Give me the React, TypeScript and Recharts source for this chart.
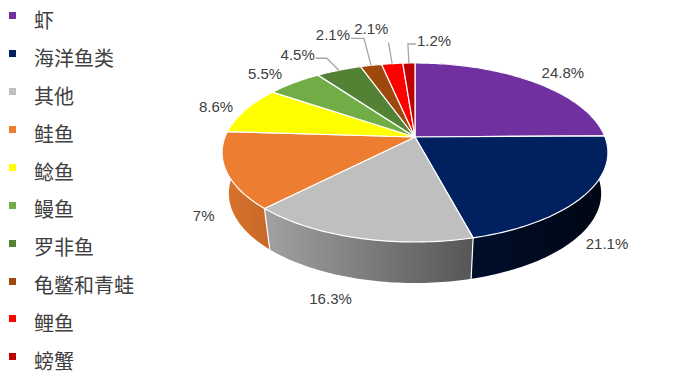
import { PieChart, Pie } from "recharts";

// ---------------------------------------------------------------------------
// Data
// ---------------------------------------------------------------------------

const categories = ["虾", "海洋鱼类", "其他", "鲑鱼", "鲶鱼", "鳗鱼", "罗非鱼", "龟鳖和青蛙", "鲤鱼", "螃蟹"];
const shares = [24.8, 21.1, 16.3, 13.8, 8.6, 5.5, 4.5, 2.1, 2.1, 1.2];
// data labels exactly as printed on the chart
const labelTexts = ["24.8%", "21.1%", "16.3%", "7%", "8.6%", "5.5%", "4.5%", "2.1%", "2.1%", "1.2%"];
const colors = ["#7030A0", "#002060", "#BFBFBF", "#ED7D31", "#FFFF00", "#70AD47", "#548235", "#9E480E", "#FF0000", "#C00000"];

const data = categories.map((name, idx) => ({ name, value: shares[idx], idx }));

// ---------------------------------------------------------------------------
// Fake 3D projection
// ---------------------------------------------------------------------------

const W = 677;
const H = 383;
const CX = 415;
const CY = 137;
const R = 190;
const TILT = 0.457;
const PERSP = 0.173;
const DEPTH = 41;
const BASE_SHRINK = 0.965;

const LABEL_FONT = '"Liberation Sans", Arial, sans-serif';
const LEGEND_FONT = '"Noto Sans CJK SC", "Noto Sans", sans-serif';

// manual callouts for the thin slices at the top
const callouts: Record<string, { lift: number; run: number }> = {
  罗非鱼: { lift: 12, run: -11 },
  龟鳖和青蛙: { lift: 27, run: -13 },
  鲤鱼: { lift: 21, run: 0 },
  螃蟹: { lift: 19, run: 8 },
};

const toTheta = (deg: number) => ((90 - deg) * Math.PI) / 180;

function project(theta: number, cx: number, cy: number, r: number, level: number) {
  const s = Math.sin(theta);
  const c = Math.cos(theta);
  const d = 1 + PERSP * c;
  const k = level ? BASE_SHRINK : 1;
  return [cx + (k * r * s) / d, cy + level * DEPTH - (TILT * r * c) / d];
}

function arcPoints(t1: number, t2: number, cx: number, cy: number, r: number, level: number) {
  const n = Math.max(2, Math.ceil(Math.abs(t2 - t1) / 0.02));
  const pts: number[][] = [];
  for (let i = 0; i <= n; i++) {
    pts.push(project(t1 + ((t2 - t1) * i) / n, cx, cy, r, level));
  }
  return pts;
}

function shade(hex: string, f: number) {
  const v = parseInt(hex.slice(1), 16);
  const r = Math.round(((v >> 16) & 255) * f);
  const g = Math.round(((v >> 8) & 255) * f);
  const b = Math.round((v & 255) * f);
  return `rgb(${r},${g},${b})`;
}

const idxOf = (props: any) => props.payload?.idx ?? props.idx ?? props.index ?? 0;

function WallShape(props: any) {
  const { cx, cy, outerRadius, startAngle, endAngle } = props;
  const idx = idxOf(props);
  const t1 = toTheta(startAngle);
  const t2 = toTheta(endAngle);
  const top = arcPoints(t1, t2, cx, cy, outerRadius, 0);
  const bottom = arcPoints(t2, t1, cx, cy, outerRadius, 1);
  const d =
    "M" + top.concat(bottom).map((p) => `${p[0].toFixed(2)},${p[1].toFixed(2)}`).join("L") + "Z";
  const id = `wall-${idx}`;
  const deg = ((t1 * 180) / Math.PI) % 360;
  const a = project(t1, cx, cy, outerRadius, 0);
  const b = project(t1, cx, cy, outerRadius, 1);
  return (
    <g>
      <defs>
        <linearGradient id={id} gradientUnits="userSpaceOnUse" x1={cx - outerRadius} x2={cx + outerRadius} y1={0} y2={0}>
          {[0, 0.5, 1].map((t) => (
            <stop key={t} offset={t} stopColor={shade(colors[idx], 0.92 - 0.72 * t)} />
          ))}
        </linearGradient>
      </defs>
      <path d={d} fill={`url(#${id})`} stroke="none" />
      {deg > 100 && deg < 260 && (
        <line x1={a[0]} y1={a[1]} x2={b[0]} y2={b[1]} stroke="#fff" strokeWidth={1.2} />
      )}
    </g>
  );
}

function TopShape(props: any) {
  const { cx, cy, outerRadius, startAngle, endAngle } = props;
  const idx = idxOf(props);
  const pts = arcPoints(toTheta(startAngle), toTheta(endAngle), cx, cy, outerRadius, 0);
  const d = `M${cx},${cy}L` + pts.map((p) => `${p[0].toFixed(2)},${p[1].toFixed(2)}`).join("L") + "Z";
  return <path d={d} fill={colors[idx]} stroke="#fff" strokeWidth={1.2} strokeLinejoin="round" />;
}

function renderLabel(props: any) {
  const { cx, cy, outerRadius, midAngle } = props;
  const idx = idxOf(props);
  const text = labelTexts[idx];
  const theta = toTheta(midAngle);
  const edge = project(theta, cx, cy, outerRadius, 0);
  const textStyle = { fontFamily: LABEL_FONT, fontSize: 15, fill: "#404040" };
  const co = callouts[categories[idx]];

  if (co) {
    const ex = edge[0] + 26 * Math.sin(theta);
    const ey = edge[1] - co.lift;
    const tx = ex + co.run;
    let labelX = tx - 1;
    let labelY = ey - 4;
    let anchor: "start" | "end" = "end";
    if (co.run > 0) {
      labelX = tx + 1;
      anchor = "start";
    } else if (co.run === 0) {
      labelX = ex;
      labelY = ey - 14;
    }
    return (
      <g key={`lbl-${idx}`}>
        <polyline
          points={`${edge[0]},${edge[1]} ${ex},${ey} ${tx},${ey}`}
          fill="none"
          stroke="#A6A6A6"
          strokeWidth={1.3}
        />
        <text x={labelX} y={labelY} textAnchor={anchor} dominantBaseline="central" style={textStyle}>
          {text}
        </text>
      </g>
    );
  }

  // outside-end labels; front slices sit below the side wall
  const front = Math.cos(theta) < 0;
  const base = front ? project(theta, cx, cy, outerRadius, 1) : edge;
  const vx = edge[0] - cx;
  const vy = edge[1] - cy;
  const len = Math.hypot(vx, vy) || 1;
  const x = base[0] + Math.sign(vx) * 29;
  const y = base[1] + (vy / len) * 22;
  return (
    <text key={`lbl-${idx}`} x={x} y={y} textAnchor="middle" dominantBaseline="central" style={textStyle}>
      {text}
    </text>
  );
}

// ---------------------------------------------------------------------------
// Component
// ---------------------------------------------------------------------------

export default function App() {
  return (
    <div style={{ position: "absolute", left: 0, top: 0, width: W, height: H, background: "#fff" }}>
      <PieChart width={W} height={H} margin={{ top: 0, right: 0, bottom: 0, left: 0 }}>
        <Pie
          data={data}
          dataKey="value"
          nameKey="name"
          cx={CX}
          cy={CY}
          outerRadius={R}
          startAngle={90}
          endAngle={-270}
          stroke="none"
          legendType="none"
          label={false}
          labelLine={false}
          shape={WallShape}
          inactiveShape={WallShape}
          activeShape={WallShape}
          isAnimationActive={false}
        />
        <Pie
          data={data}
          dataKey="value"
          nameKey="name"
          cx={CX}
          cy={CY}
          outerRadius={R}
          startAngle={90}
          endAngle={-270}
          stroke="#fff"
          label={renderLabel}
          labelLine={false}
          shape={TopShape}
          inactiveShape={TopShape}
          activeShape={TopShape}
          isAnimationActive={false}
        />
      </PieChart>

      <div style={{ position: "absolute", left: 0, top: 0 }}>
        {categories.map((name, i) => (
          <div key={name} style={{ position: "relative", height: 37.9 }}>
            <span
              style={{
                position: "absolute",
                left: 9,
                top: 12.3,
                width: 7,
                height: 7,
                background: colors[i],
              }}
            />
            <span
              style={{
                position: "absolute",
                left: 34,
                top: 10,
                fontFamily: LEGEND_FONT,
                fontSize: 20,
                lineHeight: "20px",
                color: "#404040",
                whiteSpace: "nowrap",
              }}
            >
              {name}
            </span>
          </div>
        ))}
      </div>
    </div>
  );
}
